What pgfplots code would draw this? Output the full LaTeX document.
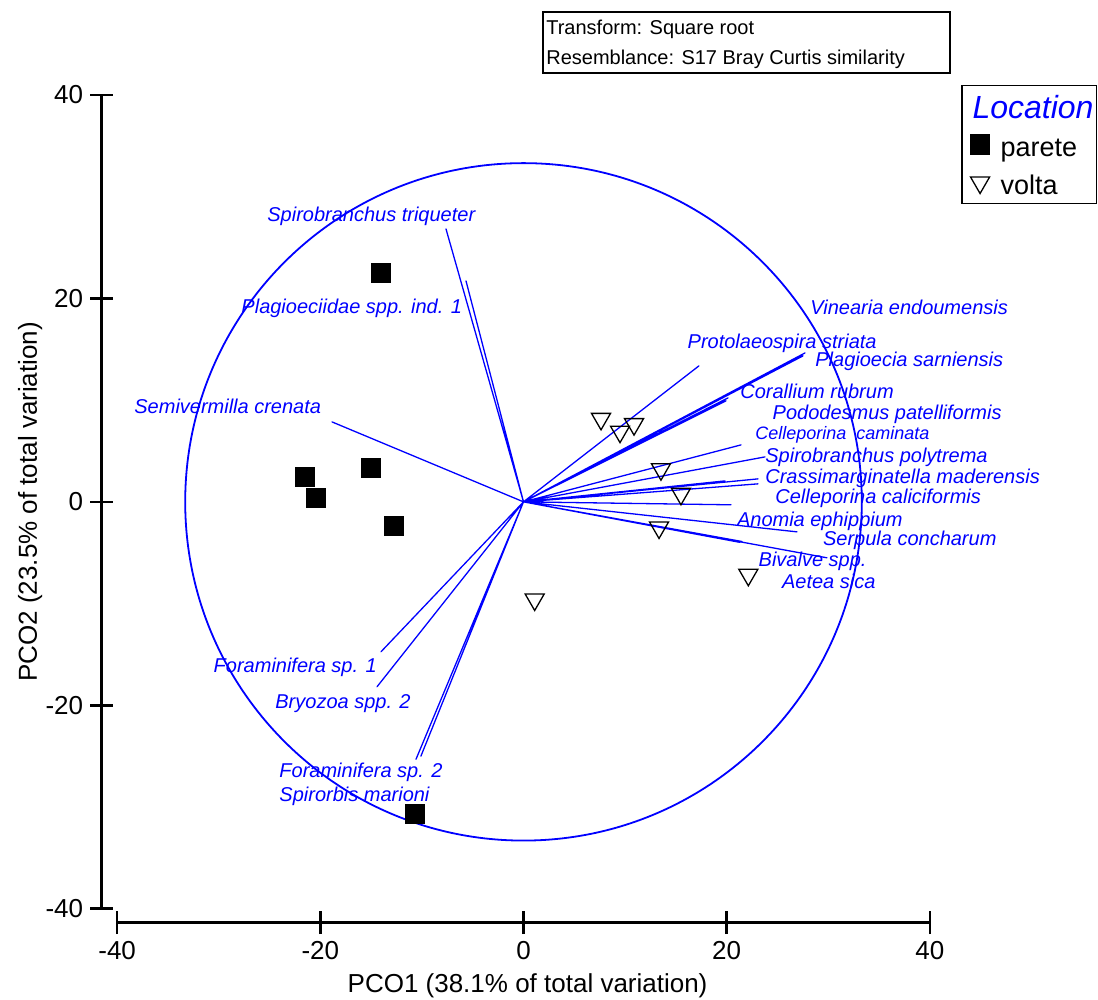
\documentclass[border=0pt]{standalone}
\usepackage{fontspec}
\setmainfont{Liberation Sans}
\usepackage{pgfplots}
\pgfplotsset{compat=1.18}

\begin{document}
\begin{tikzpicture}[
    lab/.style={anchor=base west, inner sep=0pt, text=blue,
        font=\fontsize{10}{12}\selectfont\itshape},
]
\begin{axis}[
    scale only axis,
    width=406.5pt, height=407pt,
    xmin=-40, xmax=40, ymin=-40, ymax=40,
    axis lines=left,
    axis line style={-, line width=1.3pt},
    axis x line shift=7pt,
    axis y line shift=7.75pt,
    xtick={-40,-20,0,20,40}, xticklabels={-40,-20,0,20,40},
    ytick={-40,-20,0,20,40}, yticklabels={-40,-20,0,20,40},
    tick align=center,
    major tick length=11.5pt,
    tick style={line width=1.3pt, black},
    ticklabel style={font=\fontsize{13}{15}\selectfont},
    label style={font=\fontsize{13}{15}\selectfont},
    xlabel={PCO1 (38.1\% of total variation)},
    ylabel={PCO2 (23.5\% of total variation)},
    xlabel style={at={(rel axis cs:0.505,-0.103)}, anchor=base},
    ylabel style={at={(rel axis cs:-0.107,0.5)}, anchor=center},
    clip=false,
    legend cell align=left,
    legend style={at={(1.206,1.0125)}, anchor=north east, draw=black,
        line width=0.75pt, font=\fontsize{13.5}{16}\selectfont,
        inner xsep=0.5pt, inner ysep=1.5pt, row sep=1pt, column sep=4.5pt,
        nodes={inner xsep=1pt, inner ysep=0pt, text height=15pt, text depth=3pt}},
]

% vectors
\addplot[blue, line width=0.65pt, line join=round, mark=none, forget plot] coordinates {
    (0,0) (-7.63,26.83) (0,0) (-5.66,21.72) (0,0) (-18.85,7.86)
    (0,0) (-14.03,-14.74) (0,0) (-14.42,-18.18) (0,0) (-10.58,-25.3)
    (0,0) (-10.1,-25.0)
    (0,0) (17.27,13.37) (0,0) (27.51,14.35) (0,0) (27.71,14.64)
    (0,0) (20.13,10.22) (0,0) (19.93,9.93) (0,0) (21.41,5.60)
    (0,0) (23.77,4.42) (0,0) (19.83,2.06) (0,0) (23.08,2.26)
    (0,0) (23.08,1.77) (0,0) (20.42,-0.29) (0,0) (26.92,-2.95)
    (0,0) (21.51,-3.90) (0,0) (21.30,-3.98) (0,0) (29.87,-5.50)
    (0,0)
};
\draw[blue, line width=0.9pt] (axis cs:0,0) circle[radius=33.3];

\addlegendimage{empty legend}
\addlegendentry{\hspace{-14pt}\textcolor{blue}{\fontsize{16}{18}\selectfont\itshape Location}}

\addplot[only marks, mark=square*, mark size=4.75pt, black] coordinates {
    (-14.07,22.48) (-15.04,3.34) (-21.48,2.43) (-20.39,0.36)
    (-12.72,-2.36) (-10.65,-30.69)
};
\addlegendentry{parete}

\addplot[only marks, mark=triangle, mark size=5.5pt, black,
    mark options={rotate=180, line width=0.65pt, fill=none}] coordinates {
    (7.63,8.16) (9.5,6.9) (10.88,7.64) (13.53,3.21) (15.5,0.79)
    (13.34,-2.52) (22.13,-7.17) (1.1,-9.6)
};
\addlegendentry{volta}

% species labels
\node[lab] at (axis cs:28.20,18.38) {Vinearia endoumensis};
\node[lab] at (axis cs:16.12,15.11) {Protolaeospira striata};
\node[lab] at (axis cs:28.69,13.30) {Plagioecia sarniensis};
\node[lab] at (axis cs:21.31,10.19) {Corallium rubrum};
\node[lab] at (axis cs:24.49,8.13) {Pododesmus patelliformis};
\node[lab, font=\fontsize{9}{11}\selectfont\itshape] at (axis cs:22.79,6.16) {Celleporina\ \ caminata};
\node[lab] at (axis cs:23.77,3.90) {Spirobranchus polytrema};
\node[lab] at (axis cs:23.77,1.84) {Crassimarginatella maderensis};
\node[lab] at (axis cs:24.75,-0.20) {Celleporina caliciformis};
\node[lab] at (axis cs:20.98,-2.43) {Anomia ephippium};
\node[lab] at (axis cs:29.45,-4.32) {Serpula concharum};
\node[lab] at (axis cs:23.11,-6.36) {Bivalve spp.};
\node[lab] at (axis cs:25.41,-8.48) {Aetea sica};
\node[lab] at (axis cs:-25.25,27.52) {Spirobranchus triqueter};
\node[lab] at (axis cs:-27.80,18.48) {Plagioeciidae spp. ind. 1};
\node[lab] at (axis cs:-38.34,8.65) {Semivermilla crenata};
\node[lab] at (axis cs:-30.53,-16.74) {Foraminifera sp. 1};
\node[lab] at (axis cs:-24.46,-20.28) {Bryozoa spp. 2};
\node[lab] at (axis cs:-24.06,-27.06) {Foraminifera sp. 2};
\node[lab] at (axis cs:-24.06,-29.45) {Spirorbis marioni};

% transform box
\draw[line width=0.7pt] (axis cs:1.92,48.16) rectangle (axis cs:41.98,42.16);
\node[anchor=base west, inner sep=0pt, font=\fontsize{10}{12}\selectfont]
    at (axis cs:2.21,45.95) {Transform: Square root};
\node[anchor=base west, inner sep=0pt, font=\fontsize{10}{12}\selectfont]
    at (axis cs:2.21,42.98) {Resemblance: S17 Bray Curtis similarity};

\coordinate (bl) at (axis cs:-51.53,-48.94);
\coordinate (tr) at (axis cs:56.55,49.34);
\end{axis}
\pgfresetboundingbox
\useasboundingbox (bl) rectangle (tr);
\end{tikzpicture}
\end{document}
